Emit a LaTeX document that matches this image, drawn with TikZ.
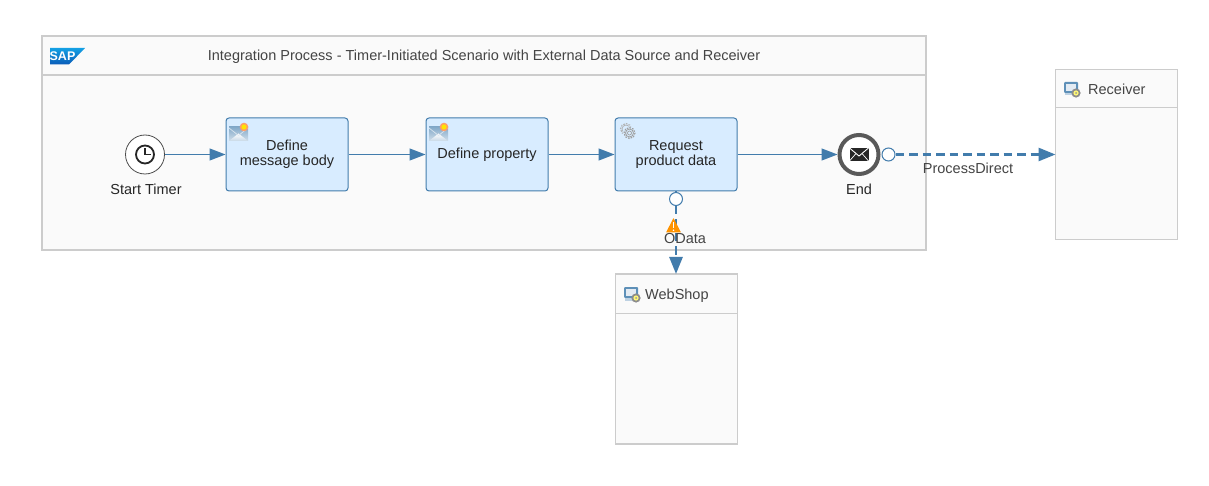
\documentclass[tikz,border=0pt]{standalone}
\usepackage{fontspec}
\setmainfont{Liberation Sans}
\usetikzlibrary{arrows.meta}
\definecolor{poolfill}{HTML}{FAFAFA}
\definecolor{poolline}{HTML}{CCCCCC}
\definecolor{flow}{HTML}{427CAC}
\definecolor{stepfill}{HTML}{D8ECFF}
\definecolor{grey}{HTML}{444444}
\definecolor{sapa}{HTML}{14A0E4}
\definecolor{sapb}{HTML}{0A5CB8}
\tikzset{
  x=1pt,y=-1pt,
  pool/.style={draw=poolline,fill=poolfill,line width=1.2pt,minimum width=#1,inner sep=0pt,outer sep=0pt},
  stepbox/.style={draw=flow,fill=stepfill,line width=1pt,rounded corners=3pt,minimum width=122pt,minimum height=73pt,inner sep=0pt,align=center,font=\fontsize{14.5}{14.5}\selectfont,text=black!85},
  lbl/.style={font=\fontsize{14.5}{16}\selectfont,text=grey,inner sep=0pt,text height=10.5pt,text depth=3pt},
  seq/.style={draw=flow,line width=1.2pt,-{Triangle[length=16pt,width=12pt,fill=flow]}},
  msg/.style={draw=flow,line width=2.6pt,dash pattern=on 8.5pt off 5pt,-{Triangle[length=17pt,width=13pt,fill=flow]}},
  port/.style={circle,draw=flow,fill=white,line width=1pt,minimum size=13pt,inner sep=0pt},
}
\newcommand{\sysicon}[2]{%
  \begin{scope}[shift={(#1,#2)}]
    \fill[rounded corners=1pt,fill=flow!85] (0,0) rectangle (14,11);
    \fill[fill=white!85!flow] (2,2) rectangle (12,9);
    \fill[fill=flow!35] (1,11) rectangle (10,13.5);
    \fill[fill=black!45] (12,11) circle (4.6);
    \fill[fill=yellow!55!white] (12,11) circle (2.6);
    \fill[fill=black!40] (12,11) circle (1);
  \end{scope}}
\newcommand{\mailicon}[2]{%
  \begin{scope}[shift={(#1,#2)}]
    \shade[top color=flow!65,bottom color=flow!25] (0,0) rectangle (19,14);
    \shade[top color=white,bottom color=flow!30] (0,14) -- (9.5,6.5) -- (19,14) -- cycle;
    \draw[white!80!flow,line width=.7pt] (0,1) -- (9.5,8.5) -- (19,1);
    \fill[fill=orange!70!red!60!white] (15,0) circle (4.3);
    \fill[fill=yellow!85!orange] (15,0) circle (2.6);
  \end{scope}}
\begin{document}
\begin{tikzpicture}
\useasboundingbox (0,0) rectangle (1209,486);
\fill[white] (0,0) rectangle (1209,486);
% integration process
\node[pool=884pt,minimum height=214pt,anchor=north west] (proc) at (42,36) {};
\node[pool=884pt,minimum height=39pt,anchor=north west] (head) at (42,36) {};
\node[lbl] (title) at (484,57) {Integration Process - Timer-Initiated Scenario with External Data Source and Receiver};
% SAP logo
\shade[top color=sapa,bottom color=sapb] (50,48) -- (85,48) -- (69,64.5) -- (50,64.5) -- cycle;
\node[font=\bfseries\fontsize{12.5}{12}\selectfont,text=white,inner sep=0pt] (saptxt) at (62.5,56.5) {SAP};
% systems
\node[pool=122pt,minimum height=170pt,anchor=north west] (webshop) at (615.5,274) {};
\draw[poolline,line width=1pt] (615.5,313) -- (737.5,313);
\node[pool=122pt,minimum height=170pt,anchor=north west] (receiver) at (1055.5,69.5) {};
\draw[poolline,line width=1pt] (1055.5,108) -- (1177.5,108);
\sysicon{624}{287}
\sysicon{1064}{82}
\node[lbl,anchor=west] (wsl) at (645,296) {WebShop};
\node[lbl,anchor=west] (rcl) at (1088,91) {Receiver};
% events
\node[circle,draw=black!70,fill=white,line width=.8pt,minimum size=39pt,inner sep=0pt] (start) at (145,154.5) {};
\draw[black!85,line width=1.8pt] (145,154.5) circle (9);
\draw[black!85,line width=1.5pt] (145,148.5) -- (145,154.5) -- (151,154.5);
\node[lbl,text=black!85] (startl) at (146,191) {Start Timer};
\node[circle,draw=black!65,fill=white,line width=4pt,minimum size=39pt,inner sep=0pt] (end) at (859,154.5) {};
\fill[black!85] (849.5,148) rectangle (868.5,161);
\draw[white,line width=.9pt] (849.5,148) -- (859,156) -- (868.5,148);
\draw[white,line width=.7pt] (849.5,161) -- (856,153.5);
\draw[white,line width=.7pt] (868.5,161) -- (862,153.5);
\node[lbl,text=black!85] (endl) at (859,191) {End};
% steps
\node[stepbox] (s1) at (287,154.5) {\raisebox{-.7pt}{Define}\\[.2pt]\raisebox{-.7pt}{message body}};
\node[stepbox] (s2) at (487,154.5) {Define property};
\node[stepbox] (s3) at (676,154.5) {\raisebox{-.7pt}{Request}\\[.2pt]\raisebox{-.7pt}{product data}};
\mailicon{229}{127}
\mailicon{429}{127}
% gear
\draw[black!32,line width=1pt,dash pattern=on 1.6pt off 1.2pt] (626,129) circle (5.5);
\draw[black!32,line width=.7pt] (626,129) circle (4);
\fill[stepfill] (629.5,133) circle (6.5);
\draw[black!38,line width=1.1pt,dash pattern=on 1.6pt off 1.2pt] (629.5,133) circle (5.5);
\draw[black!38,line width=.8pt] (629.5,133) circle (4);
\draw[black!38,line width=.7pt] (629.5,133) circle (2);
% connectors
\draw[seq] (start) -- (s1);
\draw[seq] (s1) -- (s2);
\draw[seq] (s2) -- (s3);
\draw[seq] (s3) -- (end);
\node[port] (p1) at (676,199) {};
\node[port] (p2) at (888.5,154.5) {};
\draw[msg] (p1) -- (webshop.north -| p1);
\draw[msg] (p2) -- (p2 -| receiver.west);
\draw[flow,line width=1.2pt] (s3.south -| p1) -- (p1);
% warning
\fill[fill=orange!85!yellow,rounded corners=.5pt] (673.5,218) -- (681,232.5) -- (666,232.5) -- cycle;
\fill[white] (672.7,222) rectangle (674.3,228);
\fill[white] (673.5,230.2) circle (.9);
\node[lbl] (odata) at (685,240) {OData};
\node[lbl] (pd) at (968,170) {ProcessDirect};
\end{tikzpicture}
\end{document}
